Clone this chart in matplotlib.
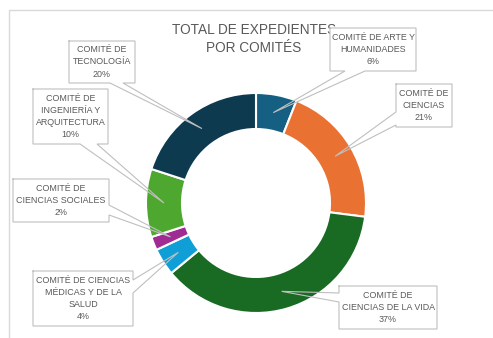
"""
Dona: total de expedientes por comité
"""
import matplotlib.pyplot as plt
import numpy as np
from matplotlib.patches import Rectangle

comites = [
    'COMITÉ DE ARTE Y\nHUMANIDADES',
    'COMITÉ DE\nCIENCIAS',
    'COMITÉ DE\nCIENCIAS DE LA VIDA',
    'COMITÉ DE CIENCIAS\nMÉDICAS Y DE LA\nSALUD',
    'COMITÉ DE\nCIENCIAS SOCIALES',
    'COMITÉ DE\nINGENIERÍA Y\nARQUITECTURA',
    'COMITÉ DE\nTECNOLOGÍA',
]
porcentajes = [6, 21, 37, 4, 2, 10, 20]
colores = ['#156082', '#E97132', '#196B24', '#0F9ED5', '#A02B93', '#4EA72E', '#0E3A50']

W, H = 493, 338
GRIS = '#595959'
BORDE = '#BFBFBF'
FUENTE = ['Liberation Sans', 'DejaVu Sans']

# cajas de etiqueta (izq, arriba, der, abajo) en pixeles desde arriba,
# lado donde nace el puntero y sus dos puntos de base
cajas = [
    ((330, 28, 416, 71), 'bottom', (345, 365)),
    ((396, 84, 452, 127), 'left', (112, 125)),
    ((339, 286, 437, 329), 'left', (293, 302)),
    ((33, 271, 133, 326), 'right', (280, 293)),
    ((13, 179, 109, 222), 'right', (205, 215)),
    ((33, 89, 108, 144), 'bottom', (80, 97)),
    ((69, 41, 135, 83), 'bottom', (110, 123)),
]

cx, cy = 256, H - 203
r_ext, ancho = 110, 36


def callout(ax, caja, lado, base, punta, texto):
    x0, y0, x1, y1 = caja
    yt, yb = H - y0, H - y1
    ax.add_patch(Rectangle((x0, yb), x1 - x0, yt - yb, facecolor='white',
                           edgecolor='none', zorder=3))
    # contorno de la caja con el puntero intercalado en un lado
    esquinas = [(x0, yt), (x1, yt), (x1, yb), (x0, yb)]
    lados = {'top': 0, 'right': 1, 'bottom': 2, 'left': 3}
    if lado == 'top':
        b = [(base[0], yt), (base[1], yt)]
    elif lado == 'right':
        b = [(x1, H - base[0]), (x1, H - base[1])]
    elif lado == 'bottom':
        b = [(base[1], yb), (base[0], yb)]
    else:
        b = [(x0, H - base[1]), (x0, H - base[0])]
    pts = []
    for i, c in enumerate(esquinas):
        pts.append(c)
        if i == lados[lado]:
            pts += [b[0], punta, b[1]]
    pts.append(esquinas[0])
    xs, ys = zip(*pts)
    ax.plot(xs, ys, color=BORDE, lw=0.8, zorder=4, solid_joinstyle='miter')
    ax.text((x0 + x1) / 2, (yt + yb) / 2, texto, ha='center', va='center',
            fontsize=6.4, color=GRIS, family=FUENTE, linespacing=1.45, zorder=5)


fig = plt.figure(figsize=(W / 100, H / 100), dpi=100)
ax = fig.add_axes([0, 0, 1, 1])
ax.set_xlim(0, W)
ax.set_ylim(0, H)
ax.set_aspect('equal')
ax.axis('off')

# marco del área del gráfico
ax.plot([9, 9, W + 5], [-5, H - 10, H - 10], color='#D9D9D9', lw=1)

ax.pie(porcentajes, colors=colores, startangle=90, counterclock=False,
       center=(cx, cy), radius=r_ext,
       wedgeprops=dict(width=ancho, edgecolor='white', linewidth=1.5))
ax.set_xlim(0, W)
ax.set_ylim(0, H)

acum = np.cumsum([0] + porcentajes)
r_mid = r_ext - ancho / 2
for i, (nombre, p) in enumerate(zip(comites, porcentajes)):
    ang = np.radians((acum[i] + p / 2) * 3.6)
    punta = (cx + r_mid * np.sin(ang), cy + r_mid * np.cos(ang))
    caja, lado, base = cajas[i]
    callout(ax, caja, lado, base, punta, f'{nombre}\n{p}%')

ax.text(254, H - 39, 'TOTAL DE EXPEDIENTES\nPOR COMITÉS', ha='center', va='center',
        fontsize=9.8, color=GRIS, family=FUENTE, linespacing=1.45, zorder=2)

fig.savefig('out.png', dpi=100)
plt.close(fig)
